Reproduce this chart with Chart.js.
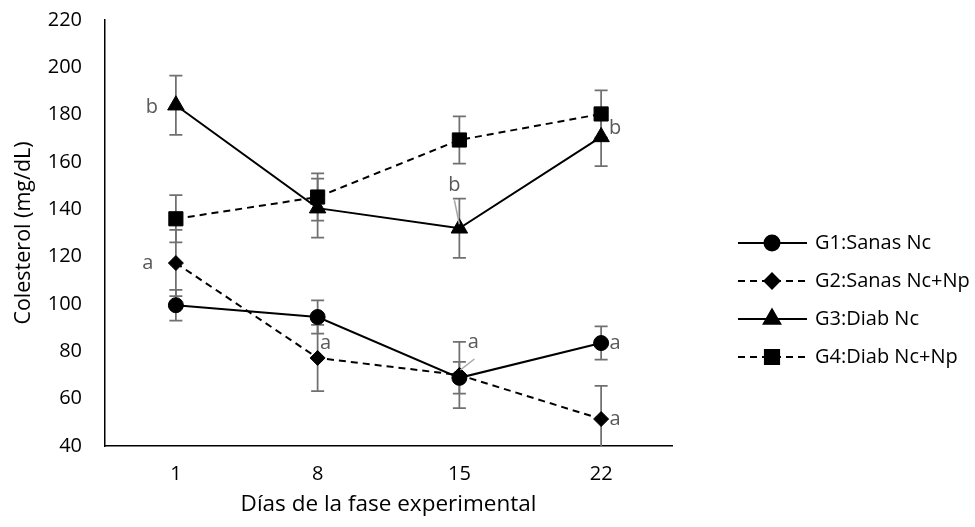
<!DOCTYPE html>
<html>
<head>
<meta charset="utf-8">
<script src="https://cdn.jsdelivr.net/npm/chart.js@4/dist/chart.umd.min.js"></script>
<style>
  html, body { margin: 0; padding: 0; background: #fff; }
  #wrap { width: 975px; height: 527px; }
</style>
</head>
<body>
<div id="wrap"><canvas id="chart" width="975" height="527"></canvas></div>
<script>
const DAYS = ['1', '8', '15', '22'];

const G1 = [99.5, 94.5, 68.8, 83.5];
const G1_ERR = [6.5, 7, 6.7, 7];
const G2 = [117.3, 77.2, 70, 51.4];
const G2_ERR = [14, 14, 14, 14];
const G3 = [184, 140.5, 132, 170.6];
const G3_ERR = [12.5, 12.5, 12.5, 12.3];
const G4 = [136, 145.2, 169.3, 180.3];
const G4_ERR = [10, 10, 10, 10];

// significance letters per point
const G1_LETTERS = [null, null, null, 'a'];
const G2_LETTERS = ['a', 'a', 'a', 'a'];
const G3_LETTERS = ['b', null, 'b', 'b'];
const G4_LETTERS = [null, null, null, null];

const FONT = "'Open Sans', 'DejaVu Sans', sans-serif";
const GREY = '#595959';

// where each letter sits relative to its point: [dx, dy, leader?]
const letterPlace = {
  0: { 3: [14, 0] },
  1: { 0: [-28, 0], 1: [8, -15], 2: [14, -33, [15, -16, 1, -5]], 3: [14, 0] },
  2: { 0: [-24, 2], 2: [-5, -43, [-5, -28, 0, -4]], 3: [14, -9] }
};

const errorBars = {
  id: 'errorBars',
  beforeDatasetsDraw(chart) {
    const { ctx, chartArea, scales: { x, y } } = chart;
    ctx.save();
    ctx.beginPath();
    ctx.rect(chartArea.left, chartArea.top, chartArea.right - chartArea.left, chartArea.bottom - chartArea.top);
    ctx.clip();
    ctx.strokeStyle = '#707070';
    ctx.lineWidth = 1.75;
    chart.data.datasets.forEach(ds => {
      ds.data.forEach((v, i) => {
        const px = x.getPixelForValue(i);
        const top = y.getPixelForValue(v + ds.errors[i]);
        const bot = y.getPixelForValue(v - ds.errors[i]);
        ctx.beginPath();
        ctx.moveTo(px, top); ctx.lineTo(px, bot);
        ctx.moveTo(px - 6.5, top); ctx.lineTo(px + 6.5, top);
        ctx.moveTo(px - 6.5, bot); ctx.lineTo(px + 6.5, bot);
        ctx.stroke();
      });
    });
    ctx.restore();
  },
  afterDatasetsDraw(chart) {
    const { ctx, scales: { x, y } } = chart;
    ctx.save();
    ctx.font = '20px ' + FONT;
    ctx.fillStyle = GREY;
    ctx.textAlign = 'center';
    ctx.textBaseline = 'middle';
    chart.data.datasets.forEach((ds, d) => {
      ds.letters.forEach((t, i) => {
        if (!t || !letterPlace[d] || !letterPlace[d][i]) return;
        const [dx, dy, lead] = letterPlace[d][i];
        const px = x.getPixelForValue(i), py = y.getPixelForValue(ds.data[i]);
        if (lead) {
          ctx.strokeStyle = '#a6a6a6';
          ctx.lineWidth = 1.5;
          ctx.beginPath();
          ctx.moveTo(px + lead[0], py + lead[1]);
          ctx.lineTo(px + lead[2], py + lead[3]);
          ctx.stroke();
        }
        ctx.fillText(t, px + dx, py + dy);
      });
    });
    ctx.restore();
  }
};

const sideLegend = {
  id: 'sideLegend',
  afterDraw(chart) {
    const { ctx } = chart;
    ctx.save();
    ctx.font = '20px ' + FONT;
    ctx.fillStyle = '#000';
    ctx.textAlign = 'left';
    ctx.textBaseline = 'middle';
    chart.data.datasets.forEach((ds, i) => {
      const yy = 243 + i * 38;
      ctx.strokeStyle = '#000';
      ctx.lineWidth = 2;
      ctx.setLineDash(ds.borderDash || []);
      ctx.beginPath();
      ctx.moveTo(738, yy); ctx.lineTo(807, yy);
      ctx.stroke();
      ctx.setLineDash([]);
      ctx.fillStyle = '#000';
      Chart.helpers.drawPoint(ctx, { pointStyle: ds.pointStyle, radius: ds.pointRadius, borderWidth: 1, rotation: 0 }, 772, yy);
      ctx.fillText(ds.label, 815, yy);
    });
    ctx.restore();
  }
};

function series(label, data, errors, letters, style, radius, dashed) {
  return {
    label, data, errors, letters,
    borderColor: '#000', backgroundColor: '#000',
    borderWidth: 2, borderDash: dashed ? [7, 5] : [],
    pointStyle: style, pointRadius: radius, pointHoverRadius: radius,
    pointBackgroundColor: '#000', pointBorderColor: '#000', pointBorderWidth: 1,
    tension: 0, fill: false
  };
}

new Chart(document.getElementById('chart'), {
  type: 'line',
  data: {
    labels: DAYS,
    datasets: [
      series('G1:Sanas Nc', G1, G1_ERR, G1_LETTERS, 'circle', 7.5, false),
      series('G2:Sanas Nc+Np', G2, G2_ERR, G2_LETTERS, 'rectRot', 7.5, true),
      series('G3:Diab Nc', G3, G3_ERR, G3_LETTERS, 'triangle', 9.5, false),
      series('G4:Diab Nc+Np', G4, G4_ERR, G4_LETTERS, 'rect', 10, true)
    ]
  },
  options: {
    responsive: false,
    animation: false,
    events: [],
    layout: { padding: { left: 0, top: 20, right: 303, bottom: 0 } },
    plugins: { legend: { display: false }, tooltip: { enabled: false } },
    scales: {
      x: {
        type: 'category',
        offset: true,
        grid: { display: false },
        border: { display: true, color: '#000', width: 1.5 },
        ticks: { color: '#000', font: { family: FONT, size: 20 }, padding: 8 },
        title: { display: true, text: 'Días de la fase experimental', color: '#000', font: { family: FONT, size: 22.5 }, padding: { top: 0, bottom: 8.5 } },
        afterFit(scale) { scale.height = 81; scale.paddingLeft = 0; scale.paddingRight = 0; }
      },
      y: {
        min: 40, max: 220,
        grid: { display: false },
        border: { display: true, color: '#000', width: 1.5 },
        ticks: { stepSize: 20, color: '#000', font: { family: FONT, size: 20 }, padding: 15 },
        title: { display: true, text: 'Colesterol (mg/dL)', color: '#000', font: { family: FONT, size: 21.5 }, padding: { top: 11, bottom: 0 } },
        afterFit(scale) { scale.width = 105; scale.paddingTop = 0; scale.paddingBottom = 0; }
      }
    }
  },
  plugins: [errorBars, sideLegend]
});
</script>
</body>
</html>
